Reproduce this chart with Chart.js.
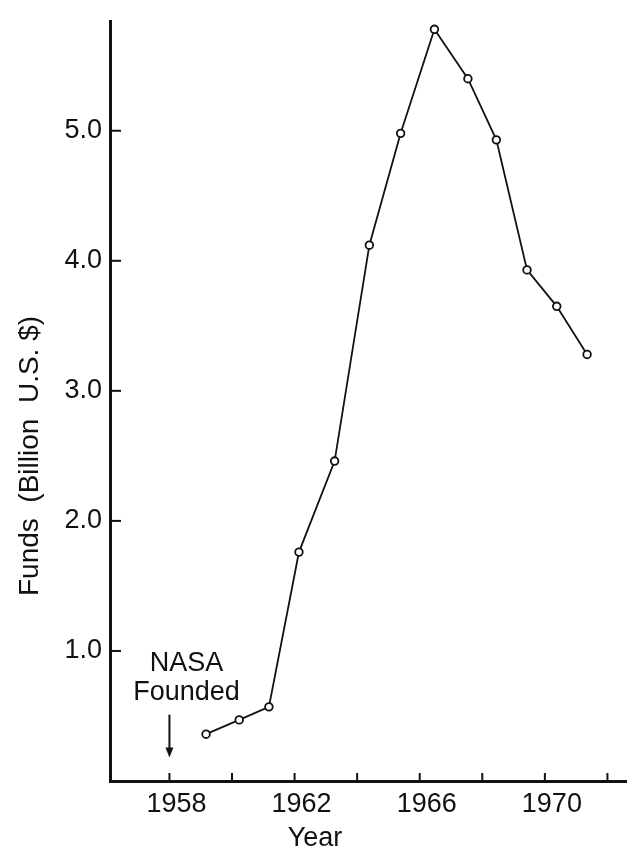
<!DOCTYPE html>
<html lang="en">
<head>
  <meta charset="UTF-8" />
  <title>NASA Funds</title>
  <script src="https://cdn.jsdelivr.net/npm/chart.js@4.4.0/dist/chart.umd.min.js"></script>
  <style>
    html, body { margin: 0; padding: 0; background: #fff; }
  </style>
</head>
<body>
  <canvas id="funds-chart" width="632" height="852"></canvas>

  <script>
    // values: year position and billion US$
    const years = [1959.17, 1960.23, 1961.18, 1962.14, 1963.28, 1964.39, 1965.39, 1966.47, 1967.54, 1968.45, 1969.43, 1970.38, 1971.35];
    const funds = [0.36, 0.47, 0.57, 1.76, 2.46, 4.12, 4.98, 5.78, 5.40, 4.93, 3.93, 3.65, 3.28];
    const yearTicks = [1958, 1960, 1962, 1964, 1966, 1968, 1970, 1972];
    const yearLabels = [1958, 1962, 1966, 1970];
    const fundTicks = [1, 2, 3, 4, 5];
    const nasaFounded = 1958;

    const ink = '#111';
    const family = '"Liberation Sans", Arial, sans-serif';
    const font = { family, size: 27, lineHeight: 1 };

    // ticks in this drawing point inward, so draw them by hand from the scales
    const inwardTicks = {
      id: 'inwardTicks',
      afterDraw(chart) {
        const { ctx, scales: { x, y } } = chart;
        ctx.save();
        ctx.strokeStyle = ink;
        ctx.lineWidth = 2;
        x.ticks.forEach(t => {
          const px = x.getPixelForValue(t.value);
          ctx.beginPath();
          ctx.moveTo(px, y.bottom);
          ctx.lineTo(px, y.bottom - 8);
          ctx.stroke();
        });
        y.ticks.forEach(t => {
          const py = y.getPixelForValue(t.value);
          ctx.beginPath();
          ctx.moveTo(x.left, py);
          ctx.lineTo(x.left + 11, py);
          ctx.stroke();
        });
        ctx.restore();
      }
    };

    // "NASA Founded" note with its arrow, plus the two axis titles
    const notes = {
      id: 'notes',
      afterDraw(chart) {
        const { ctx, scales: { x, y } } = chart;
        const ax = x.getPixelForValue(nasaFounded);
        ctx.save();
        ctx.fillStyle = ink;
        ctx.strokeStyle = ink;
        ctx.font = `27px ${family}`;
        ctx.textAlign = 'center';
        ctx.textBaseline = 'middle';
        ctx.fillText('NASA', ax + 17, y.getPixelForValue(0.9));
        ctx.fillText('Founded', ax + 17, y.getPixelForValue(0.68));

        const top = y.getPixelForValue(0.51);
        const tip = y.getPixelForValue(0.18);
        ctx.lineWidth = 2;
        ctx.beginPath();
        ctx.moveTo(ax, top);
        ctx.lineTo(ax, tip - 8);
        ctx.stroke();
        ctx.beginPath();
        ctx.moveTo(ax - 4, tip - 10);
        ctx.lineTo(ax + 4, tip - 10);
        ctx.lineTo(ax, tip);
        ctx.closePath();
        ctx.fill();

        ctx.fillText('Year', 315, 839);

        ctx.translate(30, 456);
        ctx.rotate(-Math.PI / 2);
        ctx.font = `28px ${family}`;
        ctx.fillText('Funds  (Billion  U.S. $)', 0, 0);
        ctx.restore();
      }
    };

    new Chart(document.getElementById('funds-chart'), {
      type: 'line',
      data: {
        datasets: [{
          data: years.map((yr, i) => ({ x: yr, y: funds[i] })),
          borderColor: ink,
          borderWidth: 1.8,
          pointRadius: 3.8,
          pointBorderWidth: 1.8,
          pointBackgroundColor: '#fff',
          pointBorderColor: ink,
          tension: 0,
          fill: false
        }]
      },
      options: {
        responsive: false,
        animation: false,
        events: [],
        layout: { padding: { top: 13, right: 0, left: 0, bottom: 0 } },
        plugins: {
          legend: { display: false },
          tooltip: { enabled: false }
        },
        scales: {
          x: {
            type: 'linear',
            min: 1956.1,
            max: 1972.6,
            afterBuildTicks: s => { s.ticks = yearTicks.map(v => ({ value: v })); },
            afterFit: s => { s.height = 71; },
            grid: { display: false, drawTicks: false },
            border: { display: true, width: 3, color: ink },
            ticks: {
              autoSkip: false,
              maxRotation: 0,
              padding: 10,
              labelOffset: 7,
              color: ink,
              font,
              callback: v => yearLabels.includes(v) ? String(v) : ''
            }
          },
          y: {
            min: 0,
            max: 5.84,
            afterBuildTicks: s => { s.ticks = fundTicks.map(v => ({ value: v })); },
            afterFit: s => { s.width = 110; },
            grid: { display: false, drawTicks: false },
            border: { display: true, width: 3, color: ink },
            ticks: {
              padding: 8,
              color: ink,
              font,
              callback: v => v.toFixed(1)
            }
          }
        }
      },
      plugins: [inwardTicks, notes]
    });
  </script>
</body>
</html>
